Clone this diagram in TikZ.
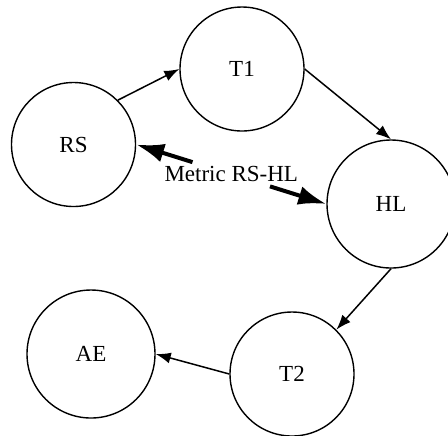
\documentclass[tikz,border=0pt]{standalone}
\usepackage{fontspec}
\setmainfont{Liberation Serif}
\usepackage{tikz}
\usetikzlibrary{arrows.meta,calc}

\begin{document}
\begin{tikzpicture}[x=0.5pt,y=-0.5pt,
    state/.style={draw,circle,line width=0.7pt,minimum size=62pt,inner sep=0pt,
      font=\fontsize{11.5}{13}\selectfont},
    link/.style={line width=0.75pt,-{Latex[length=7.5pt,width=5.5pt]}},
    metric/.style={line width=2pt,-{Latex[length=14pt,width=9.5pt]}}]
  \useasboundingbox (0,0) rectangle (448,435);
  \node [state] (T1) at (242,69) {T1};
  \node [state] (RS) at (73.5,144.5) {RS};
  \node [state,minimum size=64pt] (HL) at (391,204) {HL};
  \node [state] (T2) at (292,374) {T2};
  \node [state,minimum size=64pt] (AE) at (91,354) {AE};
  \node [inner sep=2pt,font=\fontsize{11.5}{13}\selectfont] (lbl)
    at ($(RS.east)!0.5!(HL.west)$) {Metric RS-HL};

  % connectors go anchor to anchor
  \draw [link] (RS.45) -- (T1.west);
  \draw [link] (T1.east) -- (HL.north);
  \draw [link] (HL.south) -- (T2.45);
  \draw [link] (T2.west) -- (AE.east);
  \draw [metric] (lbl) -- (RS.east);
  \draw [metric] (lbl) -- (HL.west);
\end{tikzpicture}
\end{document}
